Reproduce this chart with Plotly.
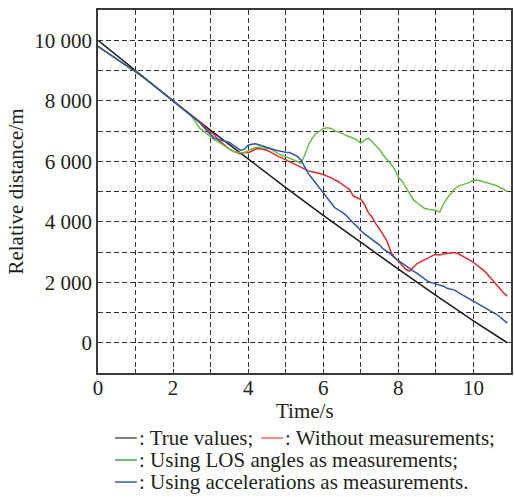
import plotly.graph_objects as go

# ---------------- data ----------------
true_t = [0, 1, 2, 3, 4, 5, 6, 7, 8, 9, 10, 10.9]
true_v = [10000, 8989, 7997, 7023, 6068, 5131, 4213, 3313, 2432, 1569, 725, 0]

# estimates sampled every 0.1 s from t = 0 to 10.9
without_meas = [
    9800, 9712, 9628, 9541, 9458, 9372, 9289, 9203, 9118, 9036,
    8972, 8880, 8783, 8688, 8590, 8492, 8390, 8292, 8196, 8097,
    7998, 7902, 7800, 7703, 7612, 7510, 7423, 7318, 7205, 7050,
    6950, 6870, 6705, 6598, 6482, 6400, 6330, 6272, 6238, 6300,
    6280, 6340, 6402, 6421, 6388, 6362, 6300, 6222, 6160, 6112,
    6050, 5982, 5931, 5880, 5812, 5730, 5682, 5652, 5630, 5598,
    5560, 5521, 5458, 5382, 5330, 5240, 5148, 5062, 4850, 4802,
    4740, 4562, 4300, 4152, 3930, 3762, 3560, 3350, 3000, 2820,
    2700, 2560, 2420, 2372, 2500, 2620, 2682, 2750, 2810, 2872,
    2920, 2900, 2932, 2950, 2962, 2980, 2942, 2880, 2812, 2732,
    2660, 2570, 2462, 2360, 2222, 2080, 1932, 1782, 1650, 1540,
]
los_angles = [
    9800, 9714, 9630, 9543, 9459, 9374, 9290, 9204, 9119, 9038,
    8974, 8881, 8785, 8689, 8591, 8493, 8391, 8293, 8197, 8098,
    7998, 7895, 7795, 7698, 7598, 7480, 7300, 7100, 7010, 6900,
    6800, 6700, 6640, 6560, 6470, 6410, 6330, 6300, 6290, 6270,
    6350, 6400, 6460, 6460, 6430, 6440, 6400, 6330, 6250, 6200,
    6150, 6120, 6050, 6000, 5930, 6180, 6520, 6750, 6910, 7000,
    7080, 7110, 7080, 7020, 6980, 6920, 6860, 6820, 6760, 6700,
    6600, 6700, 6760, 6650, 6520, 6380, 6200, 6060, 5920, 5720,
    5480, 5340, 5120, 4900, 4730, 4620, 4520, 4440, 4410, 4400,
    4380, 4320, 4580, 4780, 4950, 5090, 5180, 5230, 5260, 5300,
    5370, 5380, 5350, 5310, 5270, 5240, 5200, 5150, 5080, 5000,
]
accelerations = [
    9800, 9715, 9630, 9545, 9460, 9375, 9290, 9205, 9120, 9040,
    8975, 8880, 8785, 8685, 8590, 8490, 8390, 8290, 8195, 8095,
    7995, 7890, 7790, 7700, 7600, 7500, 7400, 7290, 7150, 7000,
    6880, 6760, 6720, 6690, 6640, 6620, 6530, 6450, 6360, 6400,
    6530, 6560, 6580, 6540, 6500, 6440, 6400, 6380, 6350, 6320,
    6300, 6290, 6230, 6170, 6050, 5800, 5600, 5440, 5280, 5120,
    4960, 4790, 4640, 4470, 4390, 4320, 4220, 4080, 3960, 3840,
    3700, 3600, 3510, 3410, 3320, 3230, 3100, 3020, 2930, 2810,
    2720, 2630, 2520, 2450, 2370, 2290, 2200, 2110, 2020, 1980,
    1950, 1900, 1870, 1800, 1780, 1740, 1660, 1590, 1520, 1440,
    1360, 1290, 1220, 1150, 1090, 1030, 950, 860, 760, 650,
]

x_ticks = [0, 1, 2, 3, 4, 5, 6, 7, 8, 9, 10, 11]
x_labels = ["0", "", "2", "", "4", "", "6", "", "8", "", "10", ""]
y_ticks = [0, 1000, 2000, 3000, 4000, 5000, 6000, 7000, 8000, 9000, 10000]
y_labels = ["0", "", "2 000", "", "4 000", "", "6 000", "", "8 000", "", "10 000"]

legend_labels = [": True values;", ": Without measurements;",
                 ": Using LOS angles as measurements;",
                 ": Using accelerations as measurements."]
series_colors = ["#1a1a1a", "#e8262a", "#6cbd45", "#2b55a5"]
legend_swatch_colors = ["#555555", "#f26a6a", "#4aa04a", "#3a5aa0"]

# ---------------- figure ----------------
FONT = "Liberation Serif"
TXT = "#231f20"

fig = go.Figure()
fig.add_trace(go.Scatter(x=true_t, y=true_v, mode="lines",
                         line=dict(color=series_colors[0], width=1.5)))
fig.add_trace(go.Scatter(y=without_meas, x0=0, dx=0.1, mode="lines",
                         line=dict(color=series_colors[1], width=1.5)))
fig.add_trace(go.Scatter(y=los_angles, x0=0, dx=0.1, mode="lines",
                         line=dict(color=series_colors[2], width=1.5)))
fig.add_trace(go.Scatter(y=accelerations, x0=0, dx=0.1, mode="lines",
                         line=dict(color=series_colors[3], width=1.5)))

W, H = 514, 497
ml, mr, mt, mb = 98, 1, 10, 124
ph = H - mt - mb
pw = W - ml - mr

def py(ypix):
    return (H - mb - ypix) / ph

def px(xpix):
    return (xpix - ml) / pw

annotations = []
shapes = []

# x-axis title
annotations.append(dict(
    text="Time/s", xref="paper", yref="paper", x=0.5, y=py(411),
    xanchor="center", yanchor="middle", showarrow=False, borderpad=0,
    font=dict(family=FONT, size=21, color=TXT)))

# legend layout (pixel positions of swatch start and row)
legend_pos = [(115, 438), (262, 438), (115, 460), (115, 482)]
for (sx, sy), lab, col in zip(legend_pos, legend_labels, legend_swatch_colors):
    shapes.append(dict(type="line", xref="paper", yref="paper",
                       x0=px(sx), x1=px(sx + 22), y0=py(sy), y1=py(sy),
                       line=dict(color=col, width=1.5)))
    annotations.append(dict(
        text=lab, xref="paper", yref="paper",
        x=px(sx + 23), y=py(sy), xanchor="left", yanchor="middle",
        showarrow=False, align="left", borderpad=0,
        font=dict(family=FONT, size=21, color=TXT)))

axis_common = dict(
    showline=True, linecolor="#3a3a3a", linewidth=1.5, mirror=True,
    showgrid=True, gridcolor="#303030", gridwidth=1, griddash="5px,3px",
    zeroline=False, ticks="inside", ticklen=4, tickcolor="#3a3a3a",
    tickfont=dict(family=FONT, size=21, color=TXT),
)

fig.update_layout(
    width=W, height=H,
    margin=dict(l=ml, r=mr, t=mt, b=mb),
    paper_bgcolor="white", plot_bgcolor="white",
    showlegend=False,
    annotations=annotations,
    shapes=shapes,
    xaxis=dict(range=[0, 11], tickmode="array", tickvals=x_ticks, ticktext=x_labels,
               ticklabelstandoff=-5, **axis_common),
    yaxis=dict(range=[-1000, 11000], tickmode="array", tickvals=y_ticks, ticktext=y_labels,
               title=dict(text="Relative distance/m", font=dict(family=FONT, size=21, color=TXT), standoff=5),
               **axis_common),
)

fig.write_html("out.html")
